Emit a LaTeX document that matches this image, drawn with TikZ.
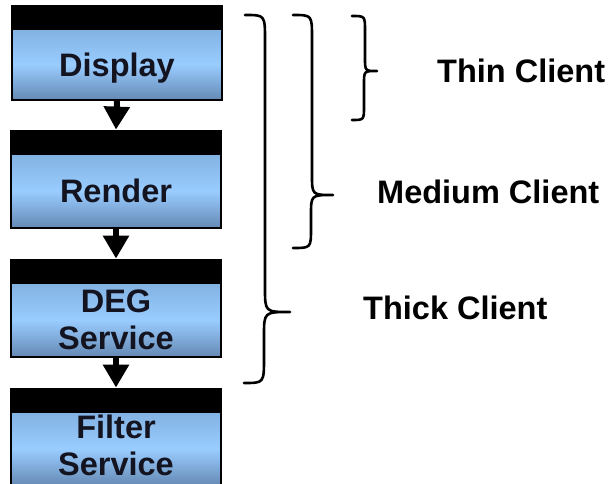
\documentclass[tikz,border=0pt]{standalone}
\usepackage{fontspec}
\setmainfont{Liberation Sans}
\usetikzlibrary{arrows.meta,positioning}
\begin{document}
\begin{tikzpicture}[x=1pt,y=-1pt,
  body/.style={draw=black,line width=1.6pt,minimum width=210pt,inner sep=0pt,
    top color=bluetop,bottom color=bluebot,middle color=bluemid,
    font=\fontsize{32.5}{37}\selectfont\bfseries,align=center,text=boxtext},
  topbar/.style={draw=black,fill=black,line width=1.6pt,minimum width=210pt,minimum height=22pt,inner sep=0pt},
  flow/.style={line width=6pt,-{Triangle[width=25pt,length=23pt]}},
  curly/.style={line width=2.6pt,line cap=round,line join=round},
  lbl/.style={font=\fontsize{32.5}{37}\selectfont\bfseries,anchor=west,inner sep=0pt}]
\definecolor{bluetop}{HTML}{82B2E2}
\definecolor{bluemid}{HTML}{99CCFF}
\definecolor{bluebot}{HTML}{6589B4}
\definecolor{boxtext}{HTML}{141420}
\useasboundingbox (0,0) rectangle (608,484);
% boxes
\node[body,minimum height=71pt,text depth=0pt] (disp) at (117,64.5) {Display};
\node[topbar,above=0pt of disp] (dispbar) {};
\node[body,minimum height=74pt] (rend) at (116,191) {Render};
\node[topbar,above=0pt of rend] (rendbar) {};
\node[body,minimum height=74pt] (deg) at (116,320) {DEG\\Service};
\node[topbar,above=0pt of deg] (degbar) {};
\node[body,minimum height=74pt,text depth=8pt] (filt) at (116,449) {Filter\\Service};
\node[topbar,above=0pt of filt] (filtbar) {};
% arrows
\draw[flow] (disp.south) -- (rendbar.north);
\draw[flow] (rend.south) -- (degbar.north);
\draw[flow] (deg.south) -- (filtbar.north);
% labels
\node[lbl] (thin) at (437,71) {Thin Client};
\node[lbl] (med) at (377,192) {Medium Client};
\node[lbl] (thick) at (363,308) {Thick Client};
% braces
\draw[curly] (245,15) .. controls (265,15) .. (265,40) -- (265,288)
  .. controls (265,312) .. (290,312) .. controls (264,312) .. (264,336)
  -- (264,358) .. controls (264,383) .. (244,383);
\draw[curly] (293,15) .. controls (312,15) .. (312,38) -- (312,175)
  .. controls (312,195) .. (333,195) .. controls (311,195) .. (311,215)
  -- (311,228) .. controls (311,248) .. (293,248);
\draw[curly] (352,16) .. controls (365,16) .. (365,31) -- (365,58)
  .. controls (365,71) .. (377,71) .. controls (364,71) .. (364,84)
  -- (364,106) .. controls (364,120) .. (352,120);
\end{tikzpicture}
\end{document}
